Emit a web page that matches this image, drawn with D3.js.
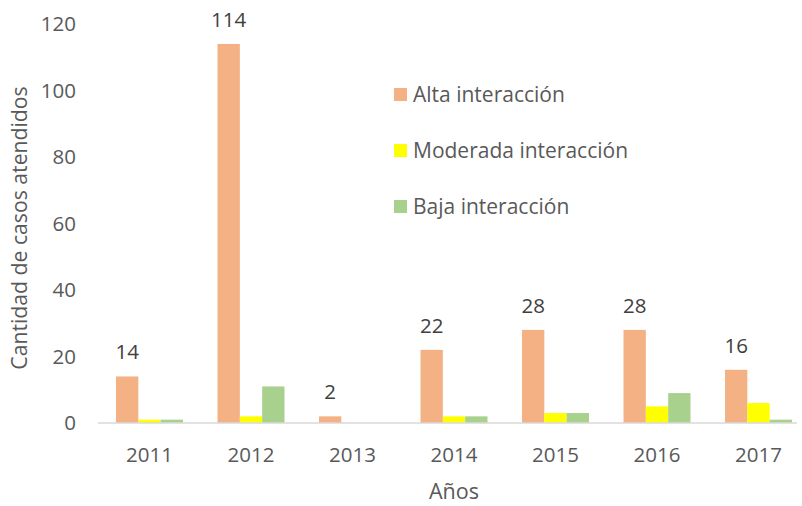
<!DOCTYPE html>
<html>
<head>
<meta charset="utf-8">
<script src="https://cdn.jsdelivr.net/npm/d3@7"></script>
<style>
  body { margin: 0; background: #fff; }
  svg { display: block; }
</style>
</head>
<body>
<svg id="chart" width="802" height="506"></svg>
<script>
const years = ["2011", "2012", "2013", "2014", "2015", "2016", "2017"];
const seriesNames = ["Alta interacción", "Moderada interacción", "Baja interacción"];
const alta = [14, 114, 2, 22, 28, 28, 16];
const moderada = [1, 2, 0, 2, 3, 5, 6];
const baja = [1, 11, 0, 2, 3, 9, 1];
const yTicks = [0, 20, 40, 60, 80, 100, 120];

const colors = ["#F4B183", "#FFFF00", "#A9D18E"];
const FONT = "'Open Sans', sans-serif";

const W = 802, H = 506;
const svg = d3.select("#chart").attr("viewBox", `0 0 ${W} ${H}`);

const x = d3.scaleBand().domain(years).range([98.75, 809.25]).paddingInner(0.34).paddingOuter(0.17);
const xs = d3.scaleBand().domain(seriesNames).range([0, x.bandwidth()]);
const y = d3.scaleLinear().domain([0, 120]).range([423, 24]);

const rows = years.map((yr, i) => ({ year: yr, vals: [alta[i], moderada[i], baja[i]] }));

// bars
const grp = svg.append("g").selectAll("g")
  .data(rows).join("g")
  .attr("transform", d => `translate(${x(d.year)},0)`);

grp.selectAll("rect")
  .data(d => d.vals.map((v, k) => ({ key: seriesNames[k], v, k })))
  .join("rect")
  .attr("x", d => xs(d.key))
  .attr("width", xs.bandwidth())
  .attr("y", d => y(d.v))
  .attr("height", d => y(0) - y(d.v))
  .attr("fill", d => colors[d.k]);

// axis line
svg.append("line")
  .attr("x1", 98).attr("x2", 797)
  .attr("y1", y(0)).attr("y2", y(0))
  .attr("stroke", "#d9d9d9").attr("stroke-width", 1.5);

// y tick labels
svg.append("g").selectAll("text")
  .data(yTicks).join("text")
  .attr("x", 76).attr("y", d => y(d))
  .attr("dy", "0.36em")
  .attr("text-anchor", "end")
  .style("font-family", FONT).style("font-size", "20.5px").style("fill", "#595959")
  .text(d => d);

// x tick labels
svg.append("g").selectAll("text")
  .data(years).join("text")
  .attr("x", d => x(d) + x.bandwidth() / 2).attr("y", 455)
  .attr("dy", "0.36em")
  .attr("text-anchor", "middle")
  .style("font-family", FONT).style("font-size", "20.5px").style("fill", "#595959")
  .text(d => d);

// data labels on alta
svg.append("g").selectAll("text")
  .data(rows).join("text")
  .attr("x", d => x(d.year) + xs(seriesNames[0]) + xs.bandwidth() / 2)
  .attr("y", d => y(d.vals[0]) - 24.5)
  .attr("dy", "0.36em")
  .attr("text-anchor", "middle")
  .style("font-family", FONT).style("font-size", "20.5px").style("fill", "#404040")
  .text(d => d.vals[0]);

// axis titles
svg.append("text")
  .attr("x", 454).attr("y", 491).attr("dy", "0.36em")
  .attr("text-anchor", "middle")
  .style("font-family", FONT).style("font-size", "21.5px").style("fill", "#595959")
  .text("Años");

svg.append("text")
  .attr("transform", "rotate(-90)")
  .attr("x", -228).attr("y", 19).attr("dy", "0.36em")
  .attr("text-anchor", "middle")
  .style("font-family", FONT).style("font-size", "21.2px").style("fill", "#595959")
  .text("Cantidad de casos atendidos");

// legend
const leg = svg.append("g").selectAll("g")
  .data(seriesNames).join("g")
  .attr("transform", (d, i) => `translate(394,${94.5 + i * 56})`);
leg.append("rect")
  .attr("x", 0).attr("y", -6.5).attr("width", 13).attr("height", 13)
  .attr("fill", (d, i) => colors[i]);
leg.append("text")
  .attr("x", 19).attr("y", 0).attr("dy", "0.36em")
  .style("font-family", FONT).style("font-size", "21px").style("fill", "#595959")
  .text(d => d);
</script>
</body>
</html>
